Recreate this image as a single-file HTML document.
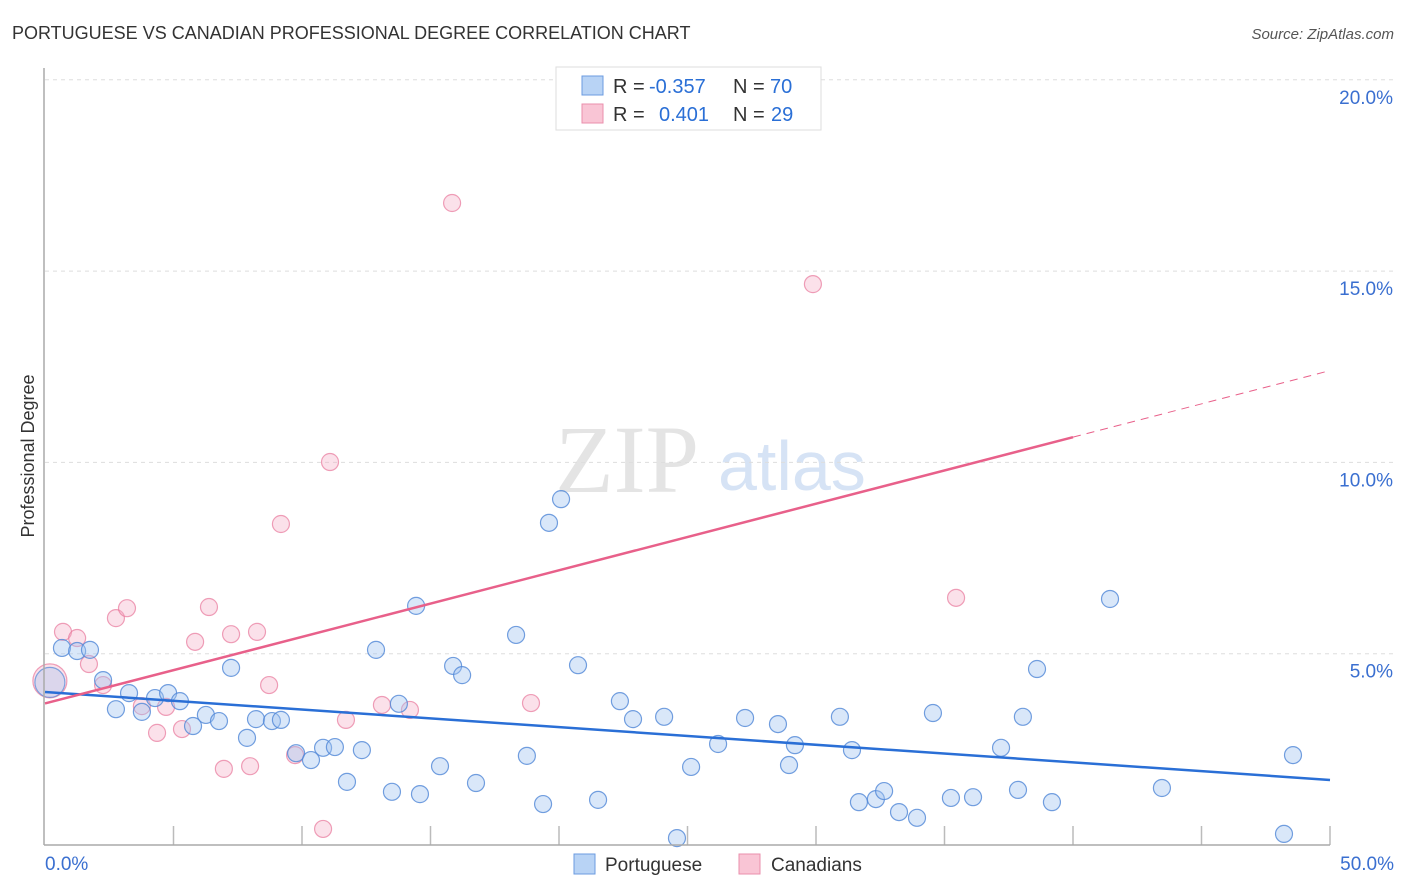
<!DOCTYPE html>
<html><head><meta charset="utf-8"><style>
body{margin:0;background:#fff;font-family:"Liberation Sans",sans-serif;}
#wrap{position:relative;width:1406px;height:892px;overflow:hidden;}
</style></head><body>
<div id="wrap">
<svg id="svg" width="1406" height="892" xmlns="http://www.w3.org/2000/svg">
<text x="12" y="39" font-size="18" fill="#333">PORTUGUESE VS CANADIAN PROFESSIONAL DEGREE CORRELATION CHART</text>
<text x="1394" y="39" font-size="15" fill="#555" text-anchor="end" font-style="italic">Source: ZipAtlas.com</text>
<text x="34" y="456" font-size="18" fill="#333" text-anchor="middle" transform="rotate(-90 34 456)">Professional Degree</text>
<text x="555" y="492" font-size="96" fill="#e4e4e4" font-family="Liberation Serif,serif">ZIP</text>
<text x="718" y="490" font-size="70" fill="#d6e3f5">atlas</text>
<g id="grid"></g><g id="ticks"></g><g id="pts"></g><g id="lines"></g>
<line x1="44" y1="68" x2="44" y2="845" stroke="#aaa" stroke-width="1.5"/>
<line x1="44" y1="845" x2="1330" y2="845" stroke="#aaa" stroke-width="1.5"/>
<text x="45" y="870" font-size="19" fill="#3a6fd0">0.0%</text>
<text x="1394" y="870" font-size="19" fill="#3a6fd0" text-anchor="end">50.0%</text>
<g>
<rect x="556" y="67" width="265" height="63" fill="#fff" stroke="#ddd"/>
<rect x="582" y="76" width="21" height="19" fill="#b8d3f5" stroke="#6b9be0"/>
<rect x="582" y="104" width="21" height="19" fill="#f9c5d5" stroke="#ea8fac"/>
<text x="613" y="93" font-size="20" fill="#333">R =</text>
<text x="649" y="93" font-size="20" fill="#2a6fd6">-0.357</text>
<text x="733" y="93" font-size="20" fill="#333">N =</text>
<text x="770" y="93" font-size="20" fill="#2a6fd6">70</text>
<text x="613" y="121" font-size="20" fill="#333">R =</text>
<text x="659" y="121" font-size="20" fill="#2a6fd6">0.401</text>
<text x="733" y="121" font-size="20" fill="#333">N =</text>
<text x="771" y="121" font-size="20" fill="#2a6fd6">29</text>
</g>
<g>
<rect x="574" y="854" width="21" height="20" fill="#b8d3f5" stroke="#6b9be0"/>
<text x="605" y="871" font-size="19" fill="#333">Portuguese</text>
<rect x="739" y="854" width="21" height="20" fill="#f9c5d5" stroke="#ea8fac"/>
<text x="771" y="871" font-size="19" fill="#333">Canadians</text>
</g>
</svg></div>
<script>
const yTicks=[5,10,15,20];
const yTickLabels=["5.0%","10.0%","15.0%","20.0%"];
const blueX=[0.66,1.25,1.75,2.26,2.76,3.27,3.77,4.28,4.79,5.25,5.76,6.26,6.77,7.24,7.86,8.21,8.83,9.18,9.77,10.35,10.82,11.28,11.75,12.33,12.88,13.5,13.77,14.44,14.59,15.37,15.88,16.23,16.77,18.33,18.75,19.38,19.61,20.08,20.74,21.52,22.37,22.88,24.09,24.59,25.14,26.19,27.24,28.52,28.95,29.18,30.93,31.4,31.67,32.33,32.65,33.23,33.93,34.55,35.25,36.11,37.2,37.86,38.05,38.6,39.18,41.44,43.46,48.21,48.56];
const blueY=[5.15,5.07,5.1,4.31,3.55,3.97,3.48,3.84,3.97,3.76,3.11,3.4,3.24,4.63,2.8,3.29,3.24,3.27,2.4,2.22,2.54,2.56,1.65,2.48,5.1,1.39,3.69,6.25,1.33,2.06,4.68,4.44,1.62,5.49,2.33,1.07,8.42,9.04,4.7,1.18,3.76,3.29,3.35,0.18,2.04,2.64,3.32,3.16,2.09,2.61,3.35,2.48,1.12,1.2,1.41,0.86,0.71,3.45,1.23,1.25,2.54,1.44,3.35,4.6,1.12,6.43,1.49,0.29,2.35];
const pinkX=[0.7,1.25,1.71,2.26,2.76,3.19,3.77,4.36,4.71,5.33,5.84,6.38,6.96,7.24,7.98,8.25,8.72,9.18,9.73,10.82,11.09,11.71,13.11,14.2,15.84,18.91,29.88,35.45];
const pinkY=[5.57,5.41,4.73,4.18,5.93,6.19,3.63,2.93,3.61,3.03,5.31,6.22,1.99,5.51,2.06,5.57,4.18,8.39,2.35,0.42,10.01,3.27,3.66,3.53,16.78,3.71,14.66,6.46];
const bigX=[0.19], bigYBlue=[4.25], bigYPink=[4.29];
const blueTrend=[[0,4.0],[50,1.7]];
const pinkTrend=[[0,3.7],[40,10.66],[50,12.4]];
const NS="http://www.w3.org/2000/svg";
const sx=v=>45+v*25.7, sy=v=>845-v*38.26;
function mk(tag,attrs,parent){const e=document.createElementNS(NS,tag);for(const k in attrs)e.setAttribute(k,attrs[k]);document.getElementById(parent).appendChild(e);return e;}
yTicks.forEach((t,i)=>{
 const l=mk('line',{x1:45,x2:1394,y1:sy(t),y2:sy(t),stroke:'#ddd','stroke-dasharray':'4,4'},'grid');
 
 
 const tx=mk('text',{x:1393,y:sy(t)+24,'font-size':19,fill:'#3a6fd0','text-anchor':'end'},'grid');
 tx.textContent=yTickLabels[i];
 
 
});
for(let i=1;i<=10;i++){
 const l=mk('line',{x1:sx(i*5),x2:sx(i*5),y1:826,y2:845,stroke:'#bbb','stroke-width':1.5},'ticks');
 
 
}
function dot(x,y,r,fill,stroke,name){
 const c=mk('circle',{cx:sx(x),cy:sy(y),r:r,fill:fill,stroke:stroke,'stroke-width':1.2},'pts');
 
 
}
dot(bigX[0],bigYPink[0],17,'rgba(244,170,195,0.35)','rgba(232,120,155,0.7)','canadians-point-large');
dot(bigX[0],bigYBlue[0],15,'rgba(160,195,240,0.35)','rgba(80,135,215,0.7)','portuguese-point-large');
pinkX.forEach((x,i)=>dot(x,pinkY[i],8.5,'rgba(244,170,195,0.35)','rgba(232,120,155,0.7)','canadians-point'));
blueX.forEach((x,i)=>dot(x,blueY[i],8.5,'rgba(160,195,240,0.4)','rgba(80,135,215,0.8)','portuguese-point'));
let l=mk('line',{x1:sx(blueTrend[0][0]),y1:sy(blueTrend[0][1]),x2:sx(blueTrend[1][0]),y2:sy(blueTrend[1][1]),stroke:'#2a6fd6','stroke-width':2.5},'lines');


l=mk('line',{x1:sx(pinkTrend[0][0]),y1:sy(pinkTrend[0][1]),x2:sx(pinkTrend[1][0]),y2:sy(pinkTrend[1][1]),stroke:'#e8608a','stroke-width':2.5},'lines');


l=mk('line',{x1:sx(pinkTrend[1][0]),y1:sy(pinkTrend[1][1]),x2:sx(pinkTrend[2][0]),y2:sy(pinkTrend[2][1]),stroke:'#e8608a','stroke-width':1,'stroke-dasharray':'8,6'},'lines');


</script>
</body></html>
